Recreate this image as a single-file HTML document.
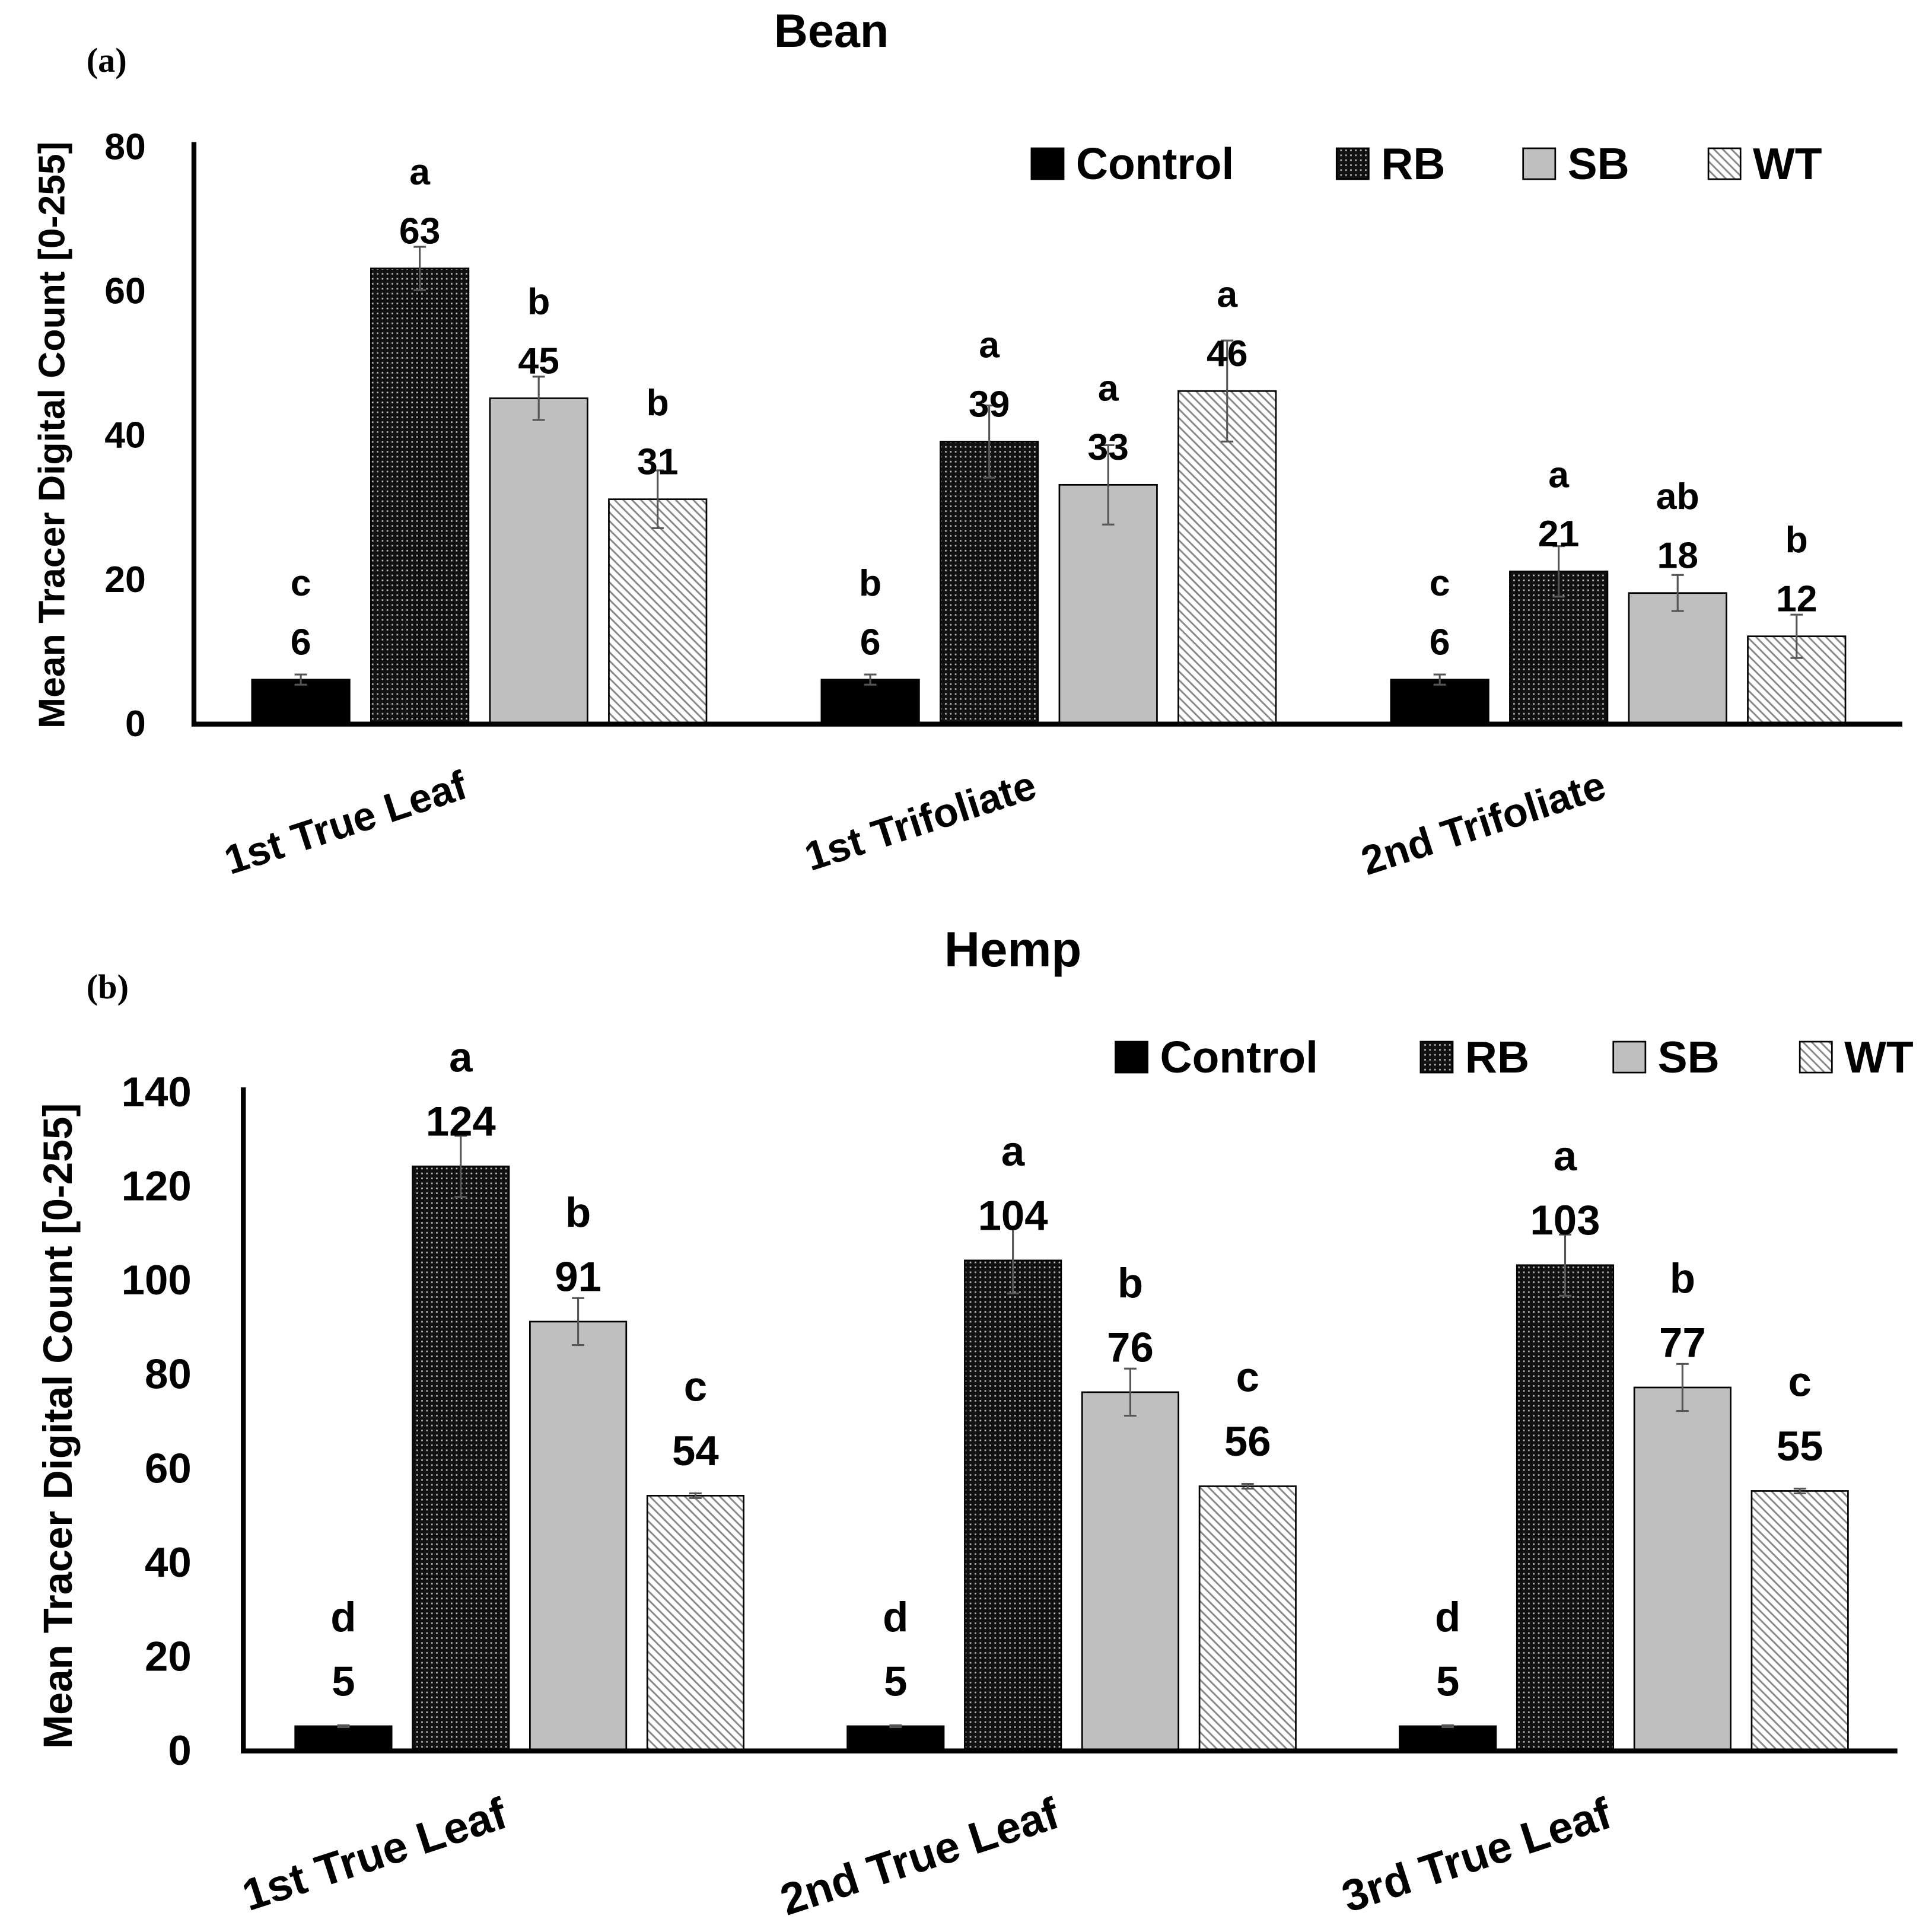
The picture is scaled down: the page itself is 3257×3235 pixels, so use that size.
<!DOCTYPE html>
<html><head><meta charset="utf-8"><style>
html,body{margin:0;padding:0;background:#fff;}
svg{display:block;}
text{font-family:"Liberation Sans Narrow","Liberation Sans",sans-serif;font-weight:bold;fill:#000;}
.serif{font-family:"Liberation Serif",serif;}
</style></head><body>
<svg id="fig" width="3257" height="3235" viewBox="0 0 1564 1553" preserveAspectRatio="none" xmlns="http://www.w3.org/2000/svg">
<defs>
<pattern id="dots" width="4" height="4" patternUnits="userSpaceOnUse"><rect width="4" height="4" fill="#111"/><rect x="1" y="1" width="1.3" height="1.3" fill="#bbb"/></pattern>
<pattern id="diag" width="5" height="5" patternUnits="userSpaceOnUse" patternTransform="rotate(-45)"><rect width="5" height="5" fill="#fff"/><rect x="0" y="0" width="1.4" height="5" fill="#888"/></pattern>
</defs>
<g id="root"></g>
</svg>
<script>
const series = ["Control","RB","SB","WT"];
const beanCats = ["1st True Leaf","1st Trifoliate","2nd Trifoliate"];
const beanVals = [[6,6,6],[63,39,21],[45,33,18],[31,46,12]];
const beanErr = [[0.7,0.7,0.7],[3,5,3.5],[3,5.5,2.5],[4,7,3]];
const beanLetters = [["c","b","c"],["a","a","a"],["b","a","ab"],["b","a","b"]];
const beanTicks = [0,20,40,60,80];
const hempCats = ["1st True Leaf","2nd True Leaf","3rd True Leaf"];
const hempVals = [[5,5,5],[124,104,103],[91,76,77],[54,56,55]];
const hempErr = [[0.2,0.2,0.2],[6.5,7,6.5],[5,5,5],[0.5,0.5,0.5]];
const hempLetters = [["d","d","d"],["a","a","a"],["b","b","b"],["c","c","c"]];
const hempTicks = [0,20,40,60,80,100,120,140];

const NS="http://www.w3.org/2000/svg";
const root=document.getElementById('root');
const fills=["#000","url(#dots)","#bfbfbf","url(#diag)"];
function el(tag,attrs,parent,txt){const e=document.createElementNS(NS,tag);for(const k in attrs)e.setAttribute(k,attrs[k]);if(txt!==undefined)e.textContent=txt;(parent||root).appendChild(e);return e;}

function chart(cfg){
  const g=el('g',{});
  
  
  const y=v=>cfg.base-(v/cfg.max)*(cfg.base-cfg.top);
  const t=el('text',{x:cfg.titleX,y:cfg.titleY,'text-anchor':'middle','font-size':cfg.titleSize},g,cfg.title);
  
  
  const p=el('text',{x:70,y:cfg.panelY,'font-size':28,class:'serif'},g,cfg.panel);
  
  
  cfg.ticks.forEach(v=>{
    const tx=el('text',{x:cfg.tickX,y:y(v)+cfg.tickSize*0.36,'text-anchor':'end','font-size':cfg.tickSize},g,String(v));
    
    
  });
  const yt=el('text',{x:0,y:0,'text-anchor':'middle','font-size':cfg.ytSize,transform:`translate(${cfg.ytX},${cfg.ytY}) rotate(-90)`,style:'font-family:"Liberation Sans",sans-serif'},g,"Mean Tracer Digital Count [0-255]");
  
  
  cfg.cats.forEach((c,ci)=>{
    const gx=cfg.x0+ci*cfg.groupStep;
    series.forEach((s,si)=>{
      const v=cfg.vals[si][ci], e=cfg.err[si][ci];
      const bx=gx+si*cfg.pitch, cx=bx+cfg.bw/2;
      const r=el('rect',{x:bx,y:y(v),width:cfg.bw,height:cfg.base-y(v),fill:fills[si],stroke:'#000','stroke-width':1.3},g);
      
      
      const eb=el('path',{d:`M${cx},${y(v+e)}V${y(v-e)}M${cx-5},${y(v+e)}H${cx+5}M${cx-5},${y(v-e)}H${cx+5}`,stroke:'#555','stroke-width':1.5,fill:'none'},g);
      
      
      const vl=el('text',{x:cx,y:y(v)-cfg.lblOff+cfg.lblSize*0.36,'text-anchor':'middle','font-size':cfg.lblSize},g,String(v));
      
      
      const ll=el('text',{x:cx,y:y(v)-cfg.lblOff-cfg.letOff+cfg.lblSize*0.3,'text-anchor':'middle','font-size':cfg.lblSize},g,cfg.letters[si][ci]);
      
      
    });
    const lx=gx+1.5*cfg.pitch+cfg.bw/2-8;
    const xl=el('text',{x:0,y:0,'text-anchor':'end','font-size':cfg.xlSize,transform:`translate(${lx},${cfg.xlY}) rotate(-18)`,style:'font-family:"Liberation Sans",sans-serif'},g,c);
    
    
  });
  const ax=el('path',{d:`M${cfg.axX},${cfg.top-3}V${cfg.base+1}H${cfg.axEnd}`,stroke:'#000','stroke-width':4,fill:'none'},g);
  
  
  series.forEach((s,si)=>{
    const lg=el('g',{},g);
    
    
    el('rect',{x:cfg.legX[si],y:cfg.legY-12,width:26,height:25,fill:fills[si],stroke:'#000','stroke-width':1.3},lg);
    el('text',{x:cfg.legX[si]+36,y:cfg.legY+13,'font-size':36},lg,s);
  });
}
chart({name:'bean-chart',title:'Bean',titleX:673,titleY:38,titleSize:38,panel:'(a)',panelY:58,
  top:118,base:585,max:80,ticks:beanTicks,tickX:118,tickSize:30,ytX:52,ytY:352,ytSize:30,
  cats:beanCats,vals:beanVals,err:beanErr,letters:beanLetters,x0:204,groupStep:461,pitch:96.3,bw:79,
  lblOff:31,letOff:46,lblSize:30,xlY:645,xlSize:33,axX:157,axEnd:1540,legX:[835,1082,1233,1383],legY:132});
chart({name:'hemp-chart',title:'Hemp',titleX:820,titleY:782,titleSize:40,panel:'(b)',panelY:808,
  top:883,base:1416,max:140,ticks:hempTicks,tickX:155,tickSize:34,ytX:58,ytY:1154,ytSize:33,
  cats:hempCats,vals:hempVals,err:hempErr,letters:hempLetters,x0:239,groupStep:447,pitch:95,bw:78,
  lblOff:37,letOff:50,lblSize:34,xlY:1478,xlSize:36,axX:197,axEnd:1536,legX:[903,1150,1306,1457],legY:855});
</script>
</body></html>
